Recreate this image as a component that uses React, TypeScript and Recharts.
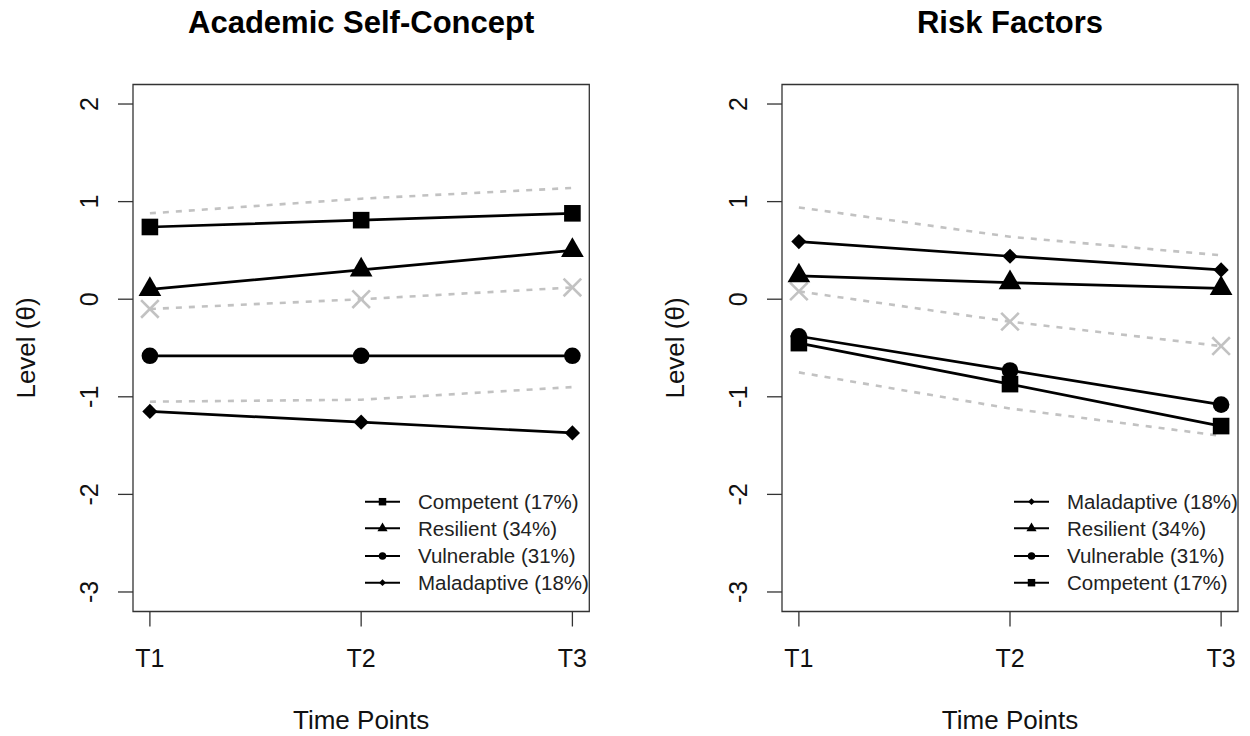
import React from "react"
import { LineChart, Line, XAxis, YAxis, ReferenceArea, Legend } from "recharts"

const FONT = "'Liberation Sans', Arial, Helvetica, sans-serif"

const timePoints = ["T1", "T2", "T3"]
const yTicks = [-3, -2, -1, 0, 1, 2]

// Academic Self-Concept
const ascCompetent = [0.74, 0.81, 0.88]
const ascResilient = [0.1, 0.3, 0.5]
const ascVulnerable = [-0.58, -0.58, -0.58]
const ascMaladaptive = [-1.15, -1.26, -1.37]
const ascRefUpper = [0.88, 1.03, 1.14]
const ascRefMid = [-0.1, 0.0, 0.12]
const ascRefLower = [-1.05, -1.03, -0.9]

// Risk Factors
const rfMaladaptive = [0.59, 0.44, 0.3]
const rfResilient = [0.24, 0.17, 0.11]
const rfVulnerable = [-0.38, -0.73, -1.08]
const rfCompetent = [-0.45, -0.87, -1.3]
const rfRefUpper = [0.94, 0.64, 0.45]
const rfRefMid = [0.08, -0.23, -0.48]
const rfRefLower = [-0.75, -1.12, -1.4]

const ascLegend = [
  { label: "Competent (17%)", marker: "square" },
  { label: "Resilient (34%)", marker: "triangle" },
  { label: "Vulnerable (31%)", marker: "circle" },
  { label: "Maladaptive (18%)", marker: "diamond" },
]
const rfLegend = [
  { label: "Maladaptive (18%)", marker: "diamond" },
  { label: "Resilient (34%)", marker: "triangle" },
  { label: "Vulnerable (31%)", marker: "circle" },
  { label: "Competent (17%)", marker: "square" },
]

type Series = { key: string; values: number[]; gray: boolean; marker: string | null }

const ascSeries: Series[] = [
  { key: "refUpper", values: ascRefUpper, gray: true, marker: null },
  { key: "refMid", values: ascRefMid, gray: true, marker: "cross" },
  { key: "refLower", values: ascRefLower, gray: true, marker: null },
  { key: "competent", values: ascCompetent, gray: false, marker: "square" },
  { key: "resilient", values: ascResilient, gray: false, marker: "triangle" },
  { key: "vulnerable", values: ascVulnerable, gray: false, marker: "circle" },
  { key: "maladaptive", values: ascMaladaptive, gray: false, marker: "diamond" },
]

const rfSeries: Series[] = [
  { key: "refUpper", values: rfRefUpper, gray: true, marker: null },
  { key: "refMid", values: rfRefMid, gray: true, marker: "cross" },
  { key: "refLower", values: rfRefLower, gray: true, marker: null },
  { key: "maladaptive", values: rfMaladaptive, gray: false, marker: "diamond" },
  { key: "resilient", values: rfResilient, gray: false, marker: "triangle" },
  { key: "vulnerable", values: rfVulnerable, gray: false, marker: "circle" },
  { key: "competent", values: rfCompetent, gray: false, marker: "square" },
]

const GRAY = "#c2c2c2"

// draw an R-style plotting symbol at (cx, cy), s = scale
function marker(kind: string, cx: number, cy: number, s: number, key?: any) {
  if (kind === "square") {
    const h = 8.3 * s
    return <rect key={key} x={cx - h} y={cy - h} width={2 * h} height={2 * h} fill="#000" />
  }
  if (kind === "triangle") {
    const r = 13.1 * s, xc = 11.35 * s, yc = 6.56 * s
    return <polygon key={key} points={`${cx},${cy - r} ${cx + xc},${cy + yc} ${cx - xc},${cy + yc}`} fill="#000" />
  }
  if (kind === "circle") {
    return <circle key={key} cx={cx} cy={cy} r={8.3 * s} fill="#000" />
  }
  if (kind === "diamond") {
    const h = 7.6 * s
    return <polygon key={key} points={`${cx},${cy - h} ${cx + h},${cy} ${cx},${cy + h} ${cx - h},${cy}`} fill="#000" />
  }
  if (kind === "cross") {
    const h = 8.8 * s
    return (
      <g key={key} stroke={GRAY} strokeWidth={2.6}>
        <line x1={cx - h} y1={cy - h} x2={cx + h} y2={cy + h} />
        <line x1={cx - h} y1={cy + h} x2={cx + h} y2={cy - h} />
      </g>
    )
  }
  return <g key={key} />
}

const YTick = (props: any) => {
  const { x, y, payload } = props
  return (
    <text x={x} y={y} transform={`rotate(-90 ${x} ${y})`} textAnchor="middle" fontSize={25} fill="#111" fontFamily={FONT}>
      {payload.value}
    </text>
  )
}

const YLabel = (props: any) => {
  const vb = props.viewBox || { y: 84.5, height: 527 }
  const cy = vb.y + vb.height / 2
  return (
    <text x={35} y={cy} transform={`rotate(-90 35 ${cy})`} textAnchor="middle" fontSize={26} fill="#111" fontFamily={FONT}>
      Level (θ)
    </text>
  )
}

const XLabel = (props: any) => {
  const vb = props.viewBox || { x: 133, width: 456 }
  return (
    <text x={vb.x + vb.width / 2} y={729} textAnchor="middle" fontSize={26} fill="#111" fontFamily={FONT}>
      Time Points
    </text>
  )
}

function LegendBox({ items }: { items: { label: string; marker: string }[] }) {
  const rows = [16.7, 43.3, 71, 97.7]
  return (
    <svg width={240} height={115} style={{ overflow: "visible", display: "block" }}>
      {items.map((it, i) => (
        <g key={it.label}>
          <line x1={5} x2={40} y1={rows[i]} y2={rows[i]} stroke="#000" strokeWidth={2} />
          {marker(it.marker, 22.5, rows[i], 0.45)}
          <text x={58} y={rows[i] + 7.4} fontSize={20.5} fill="#222" fontFamily={FONT}>
            {it.label}
          </text>
        </g>
      ))}
    </svg>
  )
}

function Panel(props: {
  left: number
  width: number
  title: string
  series: Series[]
  legend: { label: string; marker: string }[]
}) {
  const { left, width, title, series, legend } = props
  const data = timePoints.map((_, i) => {
    const row: any = { t: i + 1 }
    series.forEach((s) => (row[s.key] = s.values[i]))
    return row
  })
  const boxLeft = 133
  const boxRight = width - (width === 625 ? 35.7 : 12)
  return (
    <div style={{ position: "absolute", left, top: 0, width, height: 736 }}>
      <LineChart width={width} height={736} data={data} margin={{ top: 84.5, right: width - boxRight, bottom: 0, left: 0 }}>
        <XAxis
          dataKey="t"
          type="number"
          domain={[0.92, 3.08]}
          ticks={[1, 2, 3]}
          allowDataOverflow
          tickFormatter={(v: number) => timePoints[v - 1]}
          height={124.5}
          tickSize={15}
          tickMargin={23}
          axisLine={false}
          tickLine={{ stroke: "#333", strokeWidth: 1.3 }}
          tick={{ fill: "#111", fontSize: 25, fontFamily: FONT }}
          label={<XLabel />}
        />
        <YAxis
          type="number"
          domain={[-3.2, 2.2]}
          ticks={yTicks}
          allowDataOverflow
          width={boxLeft}
          tickSize={15}
          tickMargin={20}
          axisLine={false}
          tickLine={{ stroke: "#333", strokeWidth: 1.3 }}
          tick={(p: any) => <YTick {...p} />}
          label={<YLabel />}
        />
        {series.map((s) => (
          <Line
            key={s.key}
            dataKey={s.key}
            type="linear"
            stroke={s.gray ? GRAY : "#000"}
            strokeWidth={s.gray ? 2.6 : 2.7}
            strokeDasharray={s.gray ? "6 7" : undefined}
            dot={s.marker ? (p: any) => marker(s.marker as string, p.cx, p.cy, 1, `${s.key}-${p.index}`) : false}
            activeDot={false}
            isAnimationActive={false}
          />
        ))}
        <ReferenceArea x1={0.92} x2={3.08} y1={-3.2} y2={2.2} fill="none" stroke="#333" strokeWidth={1.3} fillOpacity={0} />
        <Legend
          layout="vertical"
          align="center"
          verticalAlign="middle"
          wrapperStyle={{ left: 360, top: 485, width: 240, height: 115 }}
          content={() => <LegendBox items={legend} />}
        />
      </LineChart>
      <svg width={width} height={50} style={{ position: "absolute", left: 0, top: 0 }}>
        <text x={(boxLeft + boxRight) / 2} y={33} textAnchor="middle" fontSize={31} fontWeight="bold" fill="#000" fontFamily={FONT}>
          {title}
        </text>
      </svg>
    </div>
  )
}

export default function App() {
  return (
    <div style={{ position: "absolute", left: 0, top: 0, width: 1250, height: 736, background: "#fff", overflow: "hidden" }}>
      <Panel left={0} width={625} title="Academic Self-Concept" series={ascSeries} legend={ascLegend} />
      <Panel left={649} width={601} title="Risk Factors" series={rfSeries} legend={rfLegend} />
    </div>
  )
}
